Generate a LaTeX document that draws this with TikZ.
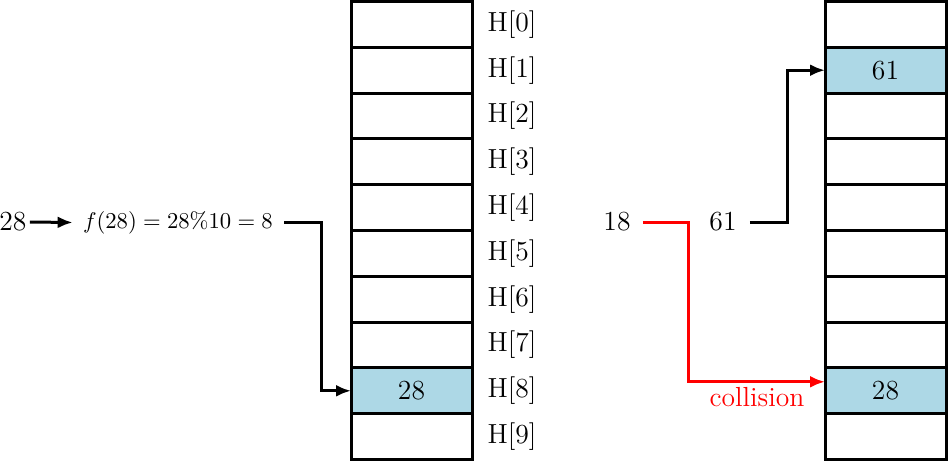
\documentclass[tikz,border=0pt]{standalone}
\usepackage{graphicx}
\usetikzlibrary{arrows.meta}
\definecolor{cellblue}{RGB}{173,216,230}
\begin{document}
\begin{tikzpicture}[x=0.5pt,y=-0.5pt,
  cell/.style={draw,line width=1.5pt,minimum width=60.5pt,minimum height=22.9pt,inner sep=0pt,outer sep=0pt,font=\fontsize{13.8}{16}\selectfont},
  hit/.style={cell,fill=cellblue},
  lbl/.style={inner sep=0pt,font=\fontsize{13.8}{16}\selectfont},
  conn/.style={line width=1.5pt,-{Latex[length=7.5pt,width=6pt]}},
  plain/.style={line width=1.5pt}]
\useasboundingbox (0,0) rectangle (948,461);
% left table
\foreach \i in {0,...,9}{
  \node[cell] (L\i) at (411.5,{24.4+45.8*\i}) {};
  \node[lbl] (H\i) at (512,{24.4+45.8*\i}) {H[\i]};
}
\node[hit] at (L8) {28};
% right table
\foreach \i in {0,...,9}{
  \node[cell] (R\i) at (885.5,{24.4+45.8*\i}) {};
}
\node[hit] at (R1) {61};
\node[hit] at (R8) {28};
% left input
\node[lbl] (in28) at (13,222) {28};
\node[inner sep=0pt,font=\fontsize{11.3}{13}\selectfont] (f) at (178,222.5) {\scalebox{1.035}{$f(28) = 28\%10 = 8$}};
\draw[conn] ([xshift=1.5pt]in28.east) -- ([xshift=-5pt]f.west);
\coordinate (fe) at ([xshift=5.5pt]f.east);
\draw[conn] (fe) -- ++(37,0) |- (L8.west);
% right inputs
\node[lbl] (in18) at (617,222) {18};
\node[lbl] (in61) at (723,222) {61};
\coordinate (s61) at ([xshift=6.5pt]in61.east);
\draw[conn] (s61) -- ++(38,0) |- (R1.west);
\coordinate (s18) at ([xshift=6pt]in18.east);
\draw[conn,red] (s18) -- ++(46,0) |- ([yshift=4.5pt]R8.west) node[pos=0.75,below=2pt,inner sep=0pt,font=\fontsize{13.8}{16}\selectfont] {collision};
\end{tikzpicture}
\end{document}
